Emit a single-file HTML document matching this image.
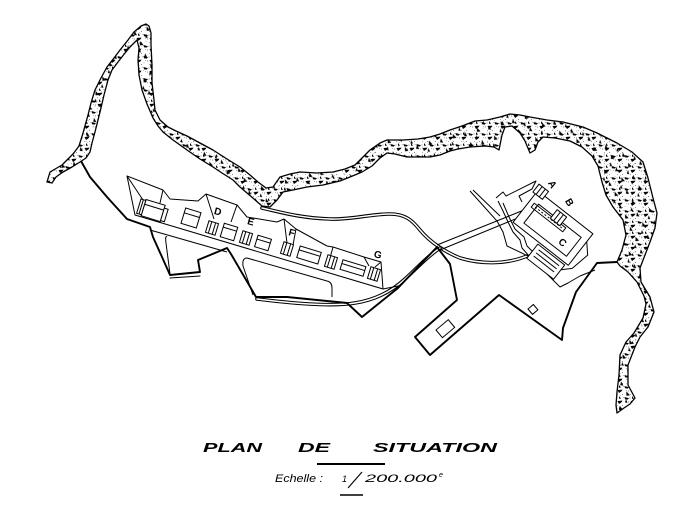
<!DOCTYPE html>
<html><head><meta charset="utf-8"><style>
html,body{margin:0;padding:0;background:#fff;}
svg{display:block;}
</style></head><body>
<svg width="699" height="512" viewBox="0 0 699 512" xmlns="http://www.w3.org/2000/svg" font-family="Liberation Sans, sans-serif">
<defs>
<pattern id="rk" width="13" height="11" patternUnits="userSpaceOnUse">
<rect width="13" height="11" fill="#fff"/>
<path d="M0.5 1 L5 2.2 L3.5 3.6 L1 3.2 Z M6.5 5 L11.5 4.6 L10.5 6.3 L8 8 Z M8 0 L10 2.6 L8 2.8 Z" fill="#000"/>
<g fill="#555"><circle cx="6" cy="2" r=".45"/><circle cx="4.5" cy="6" r=".45"/><circle cx="11.5" cy="9.5" r=".45"/><circle cx="6.5" cy="9.7" r=".4"/><circle cx="12.2" cy="1.5" r=".4"/><circle cx="2.5" cy="5.5" r=".4"/><circle cx="9.5" cy="10.3" r=".35"/></g>
</pattern>
<pattern id="rk2" width="19" height="16" patternUnits="userSpaceOnUse" patternTransform="rotate(25)">
<path d="M2 3 L6 6 L3 7 Z M11 10 L16 12 L13 14 Z M14 1 L17 4 L14.5 4.5 Z" fill="#000"/>
<g fill="#666"><circle cx="8" cy="3" r=".4"/><circle cx="5" cy="12" r=".4"/><circle cx="17" cy="8" r=".4"/></g>
</pattern>
<path id="band" d="
M47,182 L50,172 L62,165 L73,154 L79,146 L83,133 L88,115 L91,103 L95,90 L101,78 L107,67 L114,58 L120,50 L128,40 L134,32 L141,26 L146,24 L149,26 L151,33 L151,45 L152,65 L152,83 L154,100 L155,110 L160,120 L168,127 L176,131 L187,136 L200,143 L213,150 L227,159 L240,167 L250,175 L258,182 L266,188 L273,187 L280,177 L290,174 L300,172 L317,173 L333,172 L345,169 L355,165 L362,158 L370,150 L380,143 L387,140 L403,140 L418,139 L430,137 L440,134 L450,130 L462,126 L475,121 L487,120 L500,117 L510,114 L520,115 L530,117 L547,120 L563,122 L583,127 L597,133 L617,143 L632,152 L643,162 L648,178 L653,198 L657,213 L655,228 L650,242 L645,255 L640,268 L641,282 L650,297 L654,312 L648,327 L640,337 L635,347 L628,365 L628,385 L635,398 L630,404 L624,408 L617,413
L616,405 L617,392 L619,375 L620,355 L626,342 L634,333 L643,318 L646,304 L644,296 L637,282 L628,272 L620,266 L617,262 L622,250 L626,235 L623,220 L613,207 L606,195 L602,182 L598,166 L592,156 L582,147 L570,141 L555,138 L543,137 L538,142 L535,150 L530,153 L525,141 L520,133 L512,126 L505,127 L502,135 L499,150 L494,147 L485,146 L470,147 L458,149 L450,151 L440,155 L430,157 L418,157 L407,157 L395,154 L387,153 L380,158 L372,166 L362,172 L350,177 L340,181 L323,185 L307,187 L293,190 L283,192 L277,200 L270,207 L262,206 L254,199 L247,193 L240,187 L233,180 L222,173 L213,167 L200,159 L187,150 L173,140 L163,132 L158,126 L153,118 L147,104 L142,90 L139,75 L138,60 L139,48 L137,40 L130,47 L125,53 L118,62 L112,70 L108,80 L104,95 L101,108 L98,120 L95,132 L92,143 L90,152 L86,158 L80,162 L72,167 L63,172 L56,177 L52,183 Z"/>
</defs>
<rect width="699" height="512" fill="#fff"/>

<!-- cliff band -->
<use href="#band" fill="url(#rk)"/>
<use href="#band" fill="url(#rk2)"/>
<use href="#band" fill="none" stroke="#000" stroke-width="1.3" stroke-linejoin="round"/>

<!-- roads (double lines) -->
<g fill="none" stroke-linecap="round" stroke-linejoin="round">
<path d="M262,208 C280,212 300,218 330,219 C350,220 370,214 390,214 C405,214 412,220 420,230 C430,242 445,252 460,258 C480,264 505,265 527,256" stroke="#000" stroke-width="3.6"/>
<path d="M262,208 C280,212 300,218 330,219 C350,220 370,214 390,214 C405,214 412,220 420,230 C430,242 445,252 460,258 C480,264 505,265 527,256" stroke="#fff" stroke-width="1.5"/>
<path d="M257,299 C290,303 330,307 355,303 C375,300 392,291 405,279 C418,267 428,256 440,248" stroke="#000" stroke-width="3.6"/>
<path d="M257,299 C290,303 330,307 355,303 C375,300 392,291 405,279 C418,267 428,256 440,248" stroke="#fff" stroke-width="1.5"/>
<path d="M170,278 L200,276" stroke="#000" stroke-width="1"/>
</g>
<g fill="none" stroke="#000" stroke-width="1">
<path d="M437,245 L524,210"/>
<path d="M440,250 L525,215"/>
<path d="M470,191 L497,221 L503,232 L507,246 L528,256"/>
<path d="M473,190 L500,216"/>
</g>

<!-- land boundary thick line -->
<path fill="none" stroke="#000" stroke-width="1.9" stroke-linejoin="round" d="M81,161 L90,177 L107,197 L127,219 L150,227 L153,237 L162,257 L170,275 L200,272 L198,260 L227,248 L231,254 L256,297 L287,297 L317,300 L347,303 L362,317 L398,288 L437,247 L450,264 L457,300 L415,337 L430,355 L499,295 L562,340 L563,328 L576,292 L597,263 L617,262"/>
<rect x="0" y="0" width="16" height="10" fill="none" stroke="#000" stroke-width="1" transform="translate(436,330) rotate(-40)"/>
<rect x="0" y="0" width="7" height="7" fill="none" stroke="#000" stroke-width="1" transform="translate(528,309) rotate(-40)"/>

<!-- building strip -->
<g fill="none" stroke="#000" stroke-width="1" stroke-linejoin="round">
<path d="M135,215 L127,176 L163,190 L170,199 L198,201 L206,194 L237,205 L247,217 L277,222 L284,219 L296,229 L327,246 L333,247 L364,257 L381,262 L383,289 L135,215 Z"/>
<path d="M127,176 L143,200 M163,190 L160,203 M206,194 L214,219 M237,205 L231,222 M284,219 L287,243 M296,229 L293,245 M333,247 L330,258 M364,257 L369,266 M381,262 L375,267"/>
<path d="M150,230 L227,252 M247,258 L327,281 Q332,282 332,288 L332,297"/>
<path d="M167,237 Q165,235 166,243 L170,274"/>
<path d="M247,258 Q242,258 243,266 L253,295"/>
<path d="M383,289 L398,286"/>
</g>
<g fill="#fff" stroke="#000" stroke-width="1">
<g transform="translate(153,211) rotate(17)"><rect x="-10" y="-9" width="20" height="17"/><line x1="-10" y1="-4" x2="10" y2="-4"/><rect x="-15" y="-8" width="5" height="15"/><line x1="-12.5" y1="-8" x2="-12.5" y2="7"/><rect x="10" y="-6" width="4" height="13"/></g>
<g transform="translate(191,218) rotate(17)"><rect x="-8" y="-8" width="16" height="16"/><line x1="-8" y1="-3" x2="8" y2="-3"/></g>
<g transform="translate(212,228) rotate(17)"><rect x="-5" y="-6" width="10" height="12"/><line x1="-2" y1="-6" x2="-2" y2="6"/><line x1="2" y1="-6" x2="2" y2="6"/></g>
<g transform="translate(229,232) rotate(17)"><rect x="-7" y="-7" width="14" height="14"/><line x1="-7" y1="-3" x2="7" y2="-3"/></g>
<g transform="translate(246,238) rotate(17)"><rect x="-5" y="-6" width="10" height="12"/><line x1="-2" y1="-6" x2="-2" y2="6"/><line x1="2" y1="-6" x2="2" y2="6"/></g>
<g transform="translate(263,243) rotate(17)"><rect x="-7" y="-6" width="14" height="12"/><line x1="-7" y1="-2" x2="7" y2="-2"/></g>
<g transform="translate(287,249) rotate(17)"><rect x="-5" y="-6" width="10" height="12"/><line x1="-2" y1="-6" x2="-2" y2="6"/><line x1="2" y1="-6" x2="2" y2="6"/></g>
<g transform="translate(309,255) rotate(17)"><rect x="-11" y="-6" width="22" height="12"/><line x1="-11" y1="-2" x2="11" y2="-2"/></g>
<g transform="translate(331,262) rotate(17)"><rect x="-5" y="-6" width="10" height="12"/><line x1="-2" y1="-6" x2="-2" y2="6"/><line x1="2" y1="-6" x2="2" y2="6"/></g>
<g transform="translate(353,268) rotate(17)"><rect x="-12" y="-5" width="24" height="10"/><line x1="-12" y1="-1" x2="12" y2="-1"/></g>
<g transform="translate(374,274) rotate(17)"><rect x="-5" y="-6" width="10" height="12"/><line x1="-2" y1="-6" x2="-2" y2="6"/><line x1="2" y1="-6" x2="2" y2="6"/></g>
</g>

<!-- fortress -->
<g fill="none" stroke="#000" stroke-width="1" stroke-linejoin="round">
<path d="M496,198 L503,192 L506,196 L536,181 L532,189 L519,196 L522,202"/>
<path d="M498,201 L503,211 L508,222 L513,232 L520,240 L522,248 L530,257 L545,272 L560,287 L568,283 L580,276 L595,270"/>
<path d="M503,203 L509,217 L515,229 L524,237 L527,246 L535,254"/>
<g transform="translate(553,228) rotate(38)">
<rect x="-35" y="-20" width="70" height="40" fill="#fff"/>
<rect x="-26" y="-10" width="54" height="24"/>
<rect x="-30" y="-8" width="40" height="5"/>
<line x1="-27" y1="-5.5" x2="7" y2="-5.5" stroke-dasharray="2 2"/>
<rect x="-38" y="-26" width="12" height="10" fill="#fff"/>
<line x1="-34" y1="-26" x2="-34" y2="-16"/><line x1="-30" y1="-26" x2="-30" y2="-16"/>
<rect x="-8" y="-17" width="12" height="11" fill="#fff"/>
<line x1="-4" y1="-17" x2="-4" y2="-6"/><line x1="0" y1="-17" x2="0" y2="-6"/>
<rect x="-2" y="22" width="34" height="18" fill="#fff"/>
<line x1="2" y1="26" x2="28" y2="26"/><line x1="2" y1="30" x2="28" y2="30"/><line x1="2" y1="34" x2="28" y2="34"/>
<path d="M35,-10 L44,0 L40,20 L32,28"/>
</g>
</g>

<!-- labels -->
<g font-weight="bold" font-size="10" fill="#000" text-anchor="middle">
<text x="218" y="215" transform="rotate(15 218 211)">D</text>
<text x="251" y="225" transform="rotate(15 251 221)">E</text>
<text x="292" y="236" transform="rotate(15 292 232)">F</text>
<text x="378" y="258" transform="rotate(15 378 254)">G</text>
<text x="553" y="188" transform="rotate(60 553 184)">A</text>
<text x="570" y="206" transform="rotate(60 570 202)">B</text>
<text x="563" y="246" transform="rotate(40 563 242)">C</text>
</g>

<!-- title -->
<g font-style="italic" font-weight="bold" font-size="13" fill="#000">
<text x="203" y="452" textLength="59" lengthAdjust="spacingAndGlyphs">PLAN</text>
<text x="298" y="452" textLength="32" lengthAdjust="spacingAndGlyphs">DE</text>
<text x="373" y="452" textLength="124" lengthAdjust="spacingAndGlyphs">SITUATION</text>
</g>
<line x1="317" y1="464" x2="385" y2="464" stroke="#000" stroke-width="2"/>
<g font-style="italic" font-size="11" fill="#000">
<text x="275" y="482" textLength="48" lengthAdjust="spacingAndGlyphs">Echelle :</text>
<text x="342" y="482" font-size="9">1</text>
<text x="365" y="482" textLength="72" lengthAdjust="spacingAndGlyphs">200.000</text>
<text x="439" y="477" font-size="7">e</text>
</g>
<line x1="348" y1="488" x2="362" y2="472" stroke="#000" stroke-width="1.1"/>
<line x1="340" y1="495" x2="363" y2="495" stroke="#000" stroke-width="1.5"/>
</svg>
</body></html>
